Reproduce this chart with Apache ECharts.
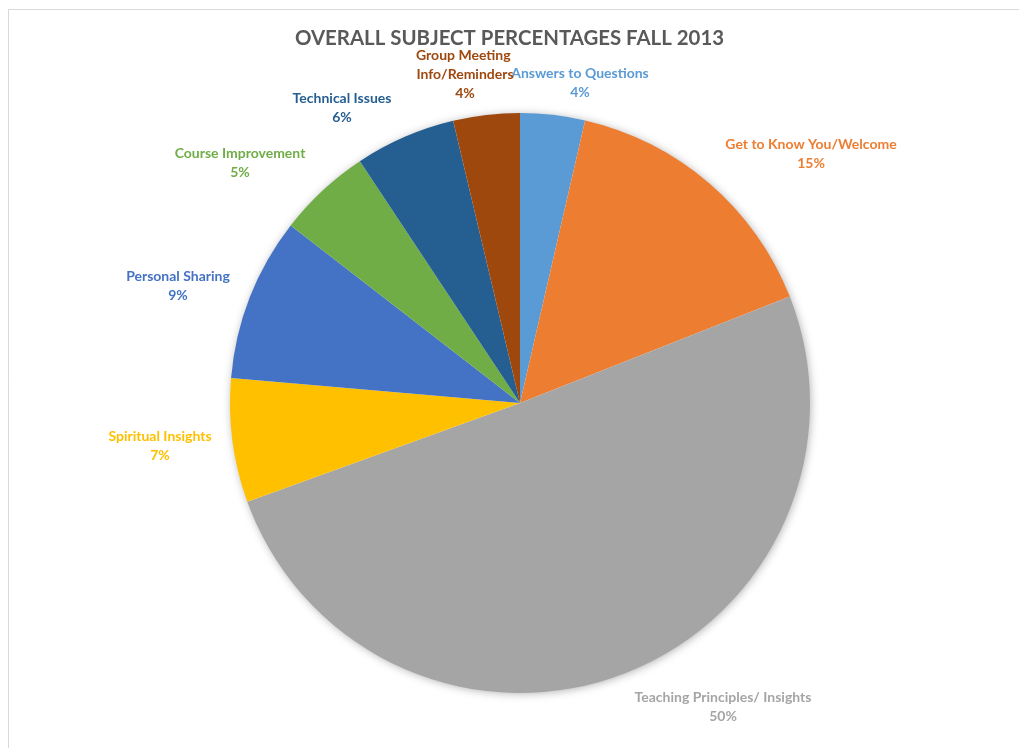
<!DOCTYPE html>
<html>
<head>
<meta charset="utf-8">
<script src="https://cdn.jsdelivr.net/npm/echarts@6/dist/echarts.min.js"></script>
<style>
  html, body { margin: 0; padding: 0; background: #ffffff; }
  #chart { width: 1019px; height: 748px; }
</style>
</head>
<body>
<div id="chart"></div>
<script>
// Subject share of all posts, Fall 2013 (percent)
const categories = [
  'Answers to Questions',
  'Get to Know You/Welcome',
  'Teaching Principles/ Insights',
  'Spiritual Insights',
  'Personal Sharing',
  'Course Improvement',
  'Technical Issues',
  'Group Meeting Info/Reminders'
];
const shares = [3.6, 15.4, 50.4, 6.9, 9.1, 5.2, 5.6, 3.7];
const sliceColors = ['#5B9BD5', '#ED7D31', '#A5A5A5', '#FFC000', '#4472C4', '#70AD47', '#255E91', '#9E480E'];

// Label anchor points (block centres, px) for each category
const labelAnchors = [
  [580, 83], [811, 154], [723, 707], [160, 446],
  [178, 286], [240, 163], [342, 108], [465, 74]
];

const FONT = 'Lato, "Open Sans", sans-serif';
const CX = 520, CY = 403, R = 290;

const chart = echarts.init(document.getElementById('chart'), null, { renderer: 'canvas' });

chart.setOption({
  backgroundColor: '#ffffff',
  animation: false,
  title: {
    text: 'OVERALL SUBJECT PERCENTAGES FALL 2013',
    left: 'center',
    top: 23,
    textStyle: { fontFamily: FONT, fontSize: 20.4, fontWeight: 'bold', color: '#595959' }
  },
  graphic: [{
    type: 'rect',
    silent: true,
    shape: { x: 8.5, y: 9.5, width: 1030, height: 760 },
    style: { fill: 'none', stroke: '#d9d9d9', lineWidth: 1 }
  }],
  series: [
    {
      // soft shadow under the whole pie
      type: 'pie',
      silent: true,
      center: [CX, CY],
      radius: R - 1,
      z: 1,
      label: { show: false },
      labelLine: { show: false },
      itemStyle: {
        color: '#ffffff',
        shadowBlur: 10,
        shadowColor: 'rgba(0,0,0,0.35)',
        shadowOffsetX: 1,
        shadowOffsetY: 1
      },
      data: [{ value: 1, name: '' }]
    },
    {
      type: 'pie',
      center: [CX, CY],
      radius: R,
      startAngle: 90,
      clockwise: true,
      z: 2,
      percentPrecision: 0,
      itemStyle: { borderWidth: 0 },
      labelLine: { show: false },
      label: {
        show: true,
        position: 'outside',
        fontFamily: FONT,
        fontSize: 14,
        fontWeight: 'bold',
        lineHeight: 19,
        formatter: '{b}\n{d}%'
      },
      labelLayout: function (p) {
        const a = labelAnchors[p.dataIndex];
        return { x: a[0], y: a[1], align: 'center', verticalAlign: 'middle' };
      },
      data: categories.map(function (name, i) {
        const item = {
          name: name,
          value: shares[i],
          itemStyle: { color: sliceColors[i] },
          label: { color: sliceColors[i] }
        };
        if (i === categories.length - 1) {
          item.label.width = 104;
          item.label.overflow = 'break';
        }
        return item;
      })
    }
  ]
});
</script>
</body>
</html>
